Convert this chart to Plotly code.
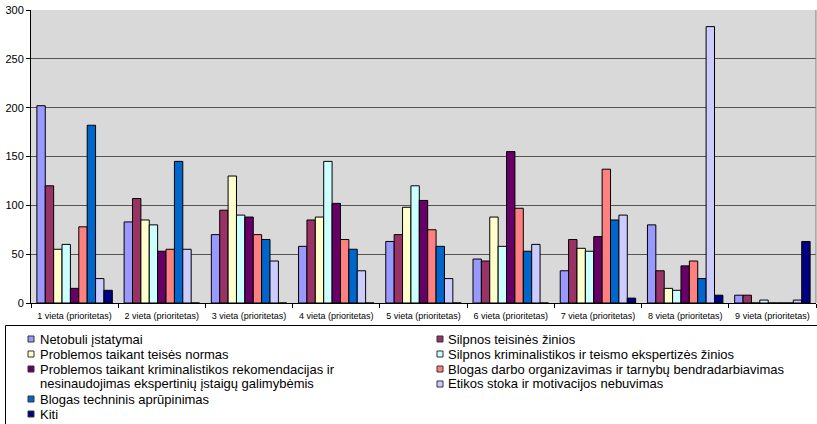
import plotly.graph_objects as go

categories = [f"{i} vieta (prioritetas)" for i in range(1, 10)]

series_names = [
    "Netobuli įstatymai",
    "Silpnos teisinės žinios",
    "Problemos taikant teisės normas",
    "Silpnos kriminalistikos ir teismo ekspertizės žinios",
    "Problemos taikant kriminalistikos rekomendacijas ir<br>nesinaudojimas ekspertinių įstaigų galimybėmis",
    "Blogas darbo organizavimas ir tarnybų bendradarbiavimas",
    "Blogas techninis aprūpinimas",
    "Etikos stoka ir motivacijos nebuvimas",
    "Kiti",
]

netobuli = [202, 83, 70, 58, 63, 45, 33, 80, 8]
silpnos_teisines = [120, 107, 95, 85, 70, 43, 65, 33, 8]
problemos_normos = [55, 85, 130, 88, 98, 88, 56, 15, 0]
silpnos_krim = [60, 80, 90, 145, 120, 58, 53, 13, 3]
problemos_krim = [15, 53, 88, 102, 105, 155, 68, 38, 0]
blogas_darbo = [78, 55, 70, 65, 75, 97, 137, 43, 0]
blogas_tech = [182, 145, 65, 55, 58, 53, 85, 25, 0]
etikos = [25, 55, 43, 33, 25, 60, 90, 283, 3]
kiti = [13, 0, 0, 0, 0, 0, 5, 8, 63]

values = [netobuli, silpnos_teisines, problemos_normos, silpnos_krim,
          problemos_krim, blogas_darbo, blogas_tech, etikos, kiti]
colors = ["#9999FF", "#993366", "#FFFFCC", "#CCFFFF", "#660066",
          "#FF8080", "#0066CC", "#CCCCFF", "#000080"]

FONT = "Liberation Sans, Arial, sans-serif"
W, H = 817, 424
ML, MR, MT, MB = 31, 1, 10, 121
PW, PH = W - ML - MR, H - MT - MB


def px_x(px):
    return (px - ML) / PW


def px_y(py):
    return (H - MB - py) / PH


fig = go.Figure()
for name, vals, col in zip(series_names, values, colors):
    fig.add_trace(go.Bar(
        x=categories, y=vals, name=name.replace("<br>", " "), showlegend=False,
        marker=dict(color=col, line=dict(color="#000000", width=1)),
    ))

# Legend (two columns, Excel style), built from the series names and colours
shapes = [
    dict(type="line", xref="paper", yref="paper", x0=1, x1=1, y0=0, y1=1,
         line=dict(color="#7F7F7F", width=1)),
    dict(type="rect", xref="paper", yref="paper",
         x0=px_x(5.5), x1=px_x(830), y0=px_y(325.5), y1=px_y(440),
         line=dict(color="black", width=1), fillcolor="rgba(0,0,0,0)"),
]
annotations = []
col_cfg = [(31, 39), (440, 447)]
line_h = 15
next_y = [339, 339]
for i, (name, col) in enumerate(zip(series_names, colors)):
    c = i % 2
    sq_x, tx = col_cfg[c]
    lines = name.split("<br>")
    y_first = next_y[c]
    shapes.append(dict(type="rect", xref="paper", yref="paper",
                       x0=px_x(sq_x - 3), x1=px_x(sq_x + 3),
                       y0=px_y(y_first - 3), y1=px_y(y_first + 3),
                       fillcolor=col, line=dict(color="#333333", width=1)))
    for k, ln in enumerate(lines):
        annotations.append(dict(
            xref="paper", yref="paper", x=px_x(tx), y=px_y(y_first + k * line_h),
            xanchor="left", yanchor="middle", align="left", showarrow=False,
            text=ln, font=dict(family=FONT, size=13, color="black"),
            borderpad=0,
        ))
    next_y[c] = y_first + len(lines) * line_h

fig.update_layout(
    width=W, height=H,
    margin=dict(l=ML, r=MR, t=MT, b=MB, autoexpand=False),
    paper_bgcolor="white",
    plot_bgcolor="#D9D9D9",
    barmode="group",
    bargap=0.135,
    bargroupgap=0,
    showlegend=False,
    font=dict(family=FONT, size=11, color="black"),
    xaxis=dict(
        showline=True, linecolor="black", linewidth=1,
        ticks="outside", tickson="boundaries", ticklen=4, tickcolor="black",
        tickfont=dict(family=FONT, size=9),
        ticklabelstandoff=4,
        showgrid=False,
    ),
    yaxis=dict(
        range=[0, 300], dtick=50,
        showline=True, linecolor="black", linewidth=1,
        ticks="outside", ticklen=4, tickcolor="black",
        tickfont=dict(family=FONT, size=11),
        gridcolor="#555555", gridwidth=1,
        zeroline=False,
    ),
    shapes=shapes,
    annotations=annotations,
)

fig.write_html(
    "out.html",
    config={"displayModeBar": False},
    post_script="document.body.style.margin='0';document.body.style.overflow='hidden';",
)
